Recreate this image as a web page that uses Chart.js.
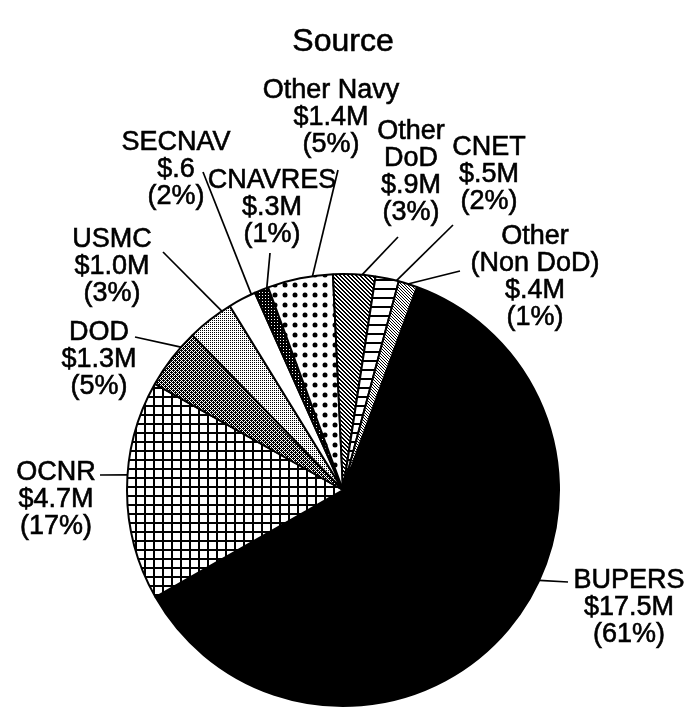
<!DOCTYPE html>
<html>
<head>
<meta charset="utf-8">
<script src="https://cdn.jsdelivr.net/npm/chart.js@4.4.1/dist/chart.umd.min.js"></script>
<style>
  html, body { margin: 0; padding: 0; background: #fff; }
  #wrap { width: 696px; height: 710px; position: relative; }
</style>
</head>
<body>
<div id="wrap"><canvas id="source-pie"></canvas></div>
<script>
// Funding by source, clockwise from BUPERS
const categories = ['BUPERS', 'OCNR', 'DOD', 'USMC', 'SECNAV', 'CNAVRES', 'Other Navy', 'Other DoD', 'CNET', 'Other (Non DoD)'];
const nameLines = [['BUPERS'], ['OCNR'], ['DOD'], ['USMC'], ['SECNAV'], ['CNAVRES'], ['Other Navy'], ['Other', 'DoD'], ['CNET'], ['Other', '(Non DoD)']];
const amounts = [17.5, 4.7, 1.3, 1.0, 0.6, 0.3, 1.4, 0.9, 0.5, 0.4];
const amountLabels = ['$17.5M', '$4.7M', '$1.3M', '$1.0M', '$.6', '$.3M', '$1.4M', '$.9M', '$.5M', '$.4M'];
const percentLabels = ['(61%)', '(17%)', '(5%)', '(3%)', '(2%)', '(1%)', '(5%)', '(3%)', '(2%)', '(1%)'];

// label placement: text centre x, first line centre y, leader start, where the leader meets the slice (0..1)
const labelLayout = [
    { x: 629, y: 581, lx: 568, ly: 582, t: 0.43 },
    { x: 56,  y: 473, lx: 100, ly: 475, t: 0.57 },
    { x: 99,  y: 333, lx: 135, ly: 337, t: 0.73 },
    { x: 112, y: 240, lx: 163, ly: 252, t: 0.8 },
    { x: 176, y: 143, lx: 203, ly: 172, t: 0.86 },
    { x: 272, y: 181, lx: 270, ly: 253, t: 0.9 },
    { x: 331, y: 91,  lx: 338, ly: 170, t: 0.69 },
    { x: 411, y: 132, lx: 398, ly: 237, t: 0.68 },
    { x: 489, y: 148, lx: 453, ly: 225, t: 0.9 },
    { x: 535, y: 237, lx: 460, ly: 271, t: 0.5 },
];

const canvas = document.getElementById('source-pie');
const ctx = canvas.getContext('2d');

function makePattern(size, draw) {
    const c = document.createElement('canvas');
    c.width = size;
    c.height = size;
    const g = c.getContext('2d');
    g.fillStyle = '#fff';
    g.fillRect(0, 0, size, size);
    g.fillStyle = '#000';
    draw(g, size);
    return ctx.createPattern(c, 'repeat');
}

function pixels(size, test) {
    return (g) => {
        for (let y = 0; y < size; y++) {
            for (let x = 0; x < size; x++) {
                if (test(x, y)) g.fillRect(x, y, 1, 1);
            }
        }
    };
}

const fills = [
    '#000',                                                     // BUPERS solid
    makePattern(9, (g) => { g.fillRect(0, 0, 9, 2); g.fillRect(0, 0, 2, 9); }), // OCNR grid
    makePattern(4, pixels(4, (x, y) => (x + y) % 2 === 0 || (x === 1 && y === 2) || (x === 3 && y === 0))), // DOD crosshatch
    makePattern(2, pixels(2, (x, y) => x === 0 && y === 0)),   // USMC stipple
    '#fff',                                                     // SECNAV
    makePattern(3, pixels(3, (x, y) => !(x === 1 && y === 1))), // CNAVRES dark
    makePattern(10, (g) => { g.beginPath(); g.arc(5, 5, 2.5, 0, Math.PI * 2); g.fill(); }), // Other Navy dots
    makePattern(4, pixels(4, (x, y) => ((x - y + 4) % 4) < 2)), // Other DoD diagonal
    makePattern(9, (g) => { g.fillRect(0, 0, 9, 2); }),         // CNET stripes
    makePattern(3, pixels(3, (x, y) => (x + 2 * y) % 3 === 0)), // Other Non DoD stipple
];

function boldText(c, txt, x, y) {
    c.fillText(txt, x, y);
    c.strokeText(txt, x, y);
}

const calloutPlugin = {
    id: 'callouts',
    afterDraw(chart) {
        const c = chart.ctx;
        const arcs = chart.getDatasetMeta(0).data;
        c.save();
        c.fillStyle = '#000';
        c.strokeStyle = '#000';
        c.textAlign = 'center';
        c.textBaseline = 'middle';

        // title
        c.lineWidth = 0.6;
        c.font = '32px "Liberation Sans", Arial, sans-serif';
        boldText(c, 'Source', 343, 42);

        c.font = '27px "Liberation Sans", Arial, sans-serif';
        arcs.forEach((arc, i) => {
            const p = arc.getProps(['x', 'y', 'startAngle', 'endAngle', 'outerRadius'], true);
            const L = labelLayout[i];
            const a = p.startAngle + L.t * (p.endAngle - p.startAngle);
            const ex = p.x + Math.cos(a) * p.outerRadius;
            const ey = p.y + Math.sin(a) * p.outerRadius;
            c.lineWidth = 1.7;
            c.beginPath();
            c.moveTo(L.lx, L.ly);
            c.lineTo(ex, ey);
            c.stroke();

            c.lineWidth = 0.6;
            const lines = nameLines[i].concat([amountLabels[i], percentLabels[i]]);
            lines.forEach((txt, k) => boldText(c, txt, L.x, L.y + k * 27));
        });
        c.restore();
    }
};

new Chart(ctx, {
    type: 'pie',
    data: {
        labels: categories,
        datasets: [{
            data: amounts,
            backgroundColor: fills,
            borderColor: '#000',
            borderWidth: 2,
        }],
    },
    options: {
        responsive: true,
        maintainAspectRatio: false,
        animation: false,
        events: [],
        rotation: 20,
        layout: {
            padding: { left: 126, right: 136, top: 273, bottom: 3 },
        },
        plugins: {
            legend: { display: false },
            title: { display: false },
            tooltip: { enabled: false },
        },
    },
    plugins: [calloutPlugin],
});
</script>
</body>
</html>
